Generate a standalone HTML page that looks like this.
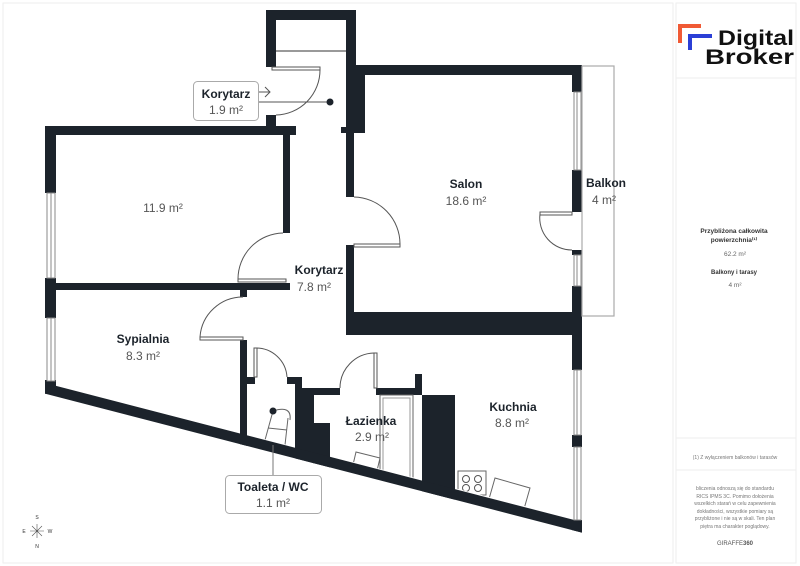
<!DOCTYPE html>
<html><head><meta charset="utf-8"><style>
html,body{margin:0;padding:0;background:#fff;}
body{width:800px;height:566px;overflow:hidden;position:relative;font-family:"Liberation Sans",sans-serif;}
svg{position:absolute;left:0;top:0;}
</style></head><body>
<svg width="800" height="566" viewBox="0 0 800 566" xmlns="http://www.w3.org/2000/svg" font-family="Liberation Sans, sans-serif">
<defs>
<clipPath id="above"><polygon points="0,0 800,0 800,589 0,382"/></clipPath>
<clipPath id="aboveTop"><polygon points="0,0 800,0 800,577 0,371"/></clipPath>
</defs>
<rect x="0" y="0" width="800" height="566" fill="#fff"/>
<rect x="3" y="3" width="670" height="560" fill="none" stroke="#eee" stroke-width="1"/>
<rect x="676" y="3" width="120" height="560" fill="#fff" stroke="#eee"/>
<line x1="676" y1="78" x2="796" y2="78" stroke="#eee"/>
<line x1="676" y1="438" x2="796" y2="438" stroke="#eee"/>
<line x1="676" y1="470" x2="796" y2="470" stroke="#eee"/>

<g fill="#1c232b" clip-path="url(#above)">
<rect x="266" y="10" width="90" height="10"/>
<rect x="266" y="10" width="10" height="57"/>
<rect x="346" y="10" width="10" height="60"/>
<rect x="266" y="115" width="10" height="12"/>
<rect x="346" y="65" width="236" height="10"/>
<rect x="346" y="65" width="19" height="68"/>
<rect x="341" y="127" width="24" height="6"/>
<rect x="346" y="133" width="8" height="64"/>
<rect x="346" y="245" width="8" height="90"/>
<rect x="346" y="312" width="236" height="23"/>
<rect x="572" y="65" width="10" height="27"/>
<rect x="572" y="170" width="10" height="42"/>
<rect x="572" y="250" width="10" height="5"/>
<rect x="572" y="286" width="10" height="84"/>
<rect x="572" y="435" width="10" height="12"/>
<rect x="572" y="520" width="10" height="16"/>
<rect x="45" y="126" width="251" height="9"/>
<rect x="45" y="126" width="11" height="67"/>
<rect x="45" y="278" width="11" height="40"/>
<rect x="283" y="133" width="7" height="100"/>
<rect x="45" y="283" width="245" height="7"/>
<rect x="240" y="290" width="7" height="7"/>
<rect x="240" y="340" width="7" height="110"/>
<rect x="247" y="377" width="8" height="7"/>
<rect x="287" y="377" width="14" height="7"/>
<rect x="295" y="377" width="7" height="100"/>
<rect x="302" y="388" width="12" height="100"/>
<rect x="313" y="423" width="17" height="60"/>
<rect x="313" y="388" width="27" height="7"/>
<rect x="376" y="388" width="46" height="7"/>
<rect x="415" y="374" width="7" height="21"/>
<rect x="422" y="395" width="33" height="130"/>
<polygon points="45,383 582,522 582,536 45,394"/>
<rect x="45" y="380" width="11" height="14"/>
</g>

<g fill="#fff" stroke="#888" stroke-width="1">
<rect x="47" y="193" width="8" height="85"/>
<rect x="47" y="318" width="8" height="63"/>
<rect x="574" y="92" width="7" height="78"/>
<rect x="574" y="255" width="7" height="31"/>
<rect x="574" y="370" width="7" height="65"/>
<rect x="574" y="447" width="7" height="73"/>
</g>
<line x1="51" y1="193" x2="51" y2="278" stroke="#888"/>
<line x1="51" y1="318" x2="51" y2="381" stroke="#888"/>
<line x1="577" y1="92" x2="577" y2="170" stroke="#888"/>
<line x1="577" y1="255" x2="577" y2="286" stroke="#888"/>
<line x1="577" y1="370" x2="577" y2="435" stroke="#888"/>
<line x1="577" y1="447" x2="577" y2="520" stroke="#888"/>
<line x1="276" y1="51" x2="346" y2="51" stroke="#999" stroke-width="2"/>

<rect x="582" y="66" width="32" height="250" fill="none" stroke="#aaa" stroke-width="1.2"/>

<g fill="none" stroke="#555" stroke-width="1" clip-path="url(#aboveTop)">
<rect x="272" y="67" width="48" height="3" fill="#fff"/>
<path d="M320 70 A45 45 0 0 1 276 115"/>
<rect x="354" y="244" width="46" height="3" fill="#fff"/>
<path d="M354 197 A47 47 0 0 1 400 244"/>
<rect x="238" y="279" width="48" height="3" fill="#fff"/>
<path d="M238 279 A46 46 0 0 1 283 233"/>
<rect x="200" y="337" width="43" height="3" fill="#fff"/>
<path d="M200 337 A43 43 0 0 1 243 297"/>
<rect x="254" y="348" width="3" height="29" fill="#fff"/>
<path d="M256 348 A31 31 0 0 1 287 377"/>
<rect x="374" y="353" width="3" height="35" fill="#fff"/>
<path d="M374 353 A35 35 0 0 0 340 388"/>
<rect x="540" y="212" width="32" height="3" fill="#fff"/>
<path d="M540 214 A32 32 0 0 0 572 250"/>
<rect x="380" y="395" width="33" height="110" stroke="#666"/>
<rect x="383" y="398" width="27" height="105" stroke="#999"/>
<path d="M273 411 L265 440 M288 418 L285 445 M273 411 Q292 405 290 420 M268 428 L287 430" stroke="#666"/>
<polygon points="356,452 380,458 376,475 352,469" stroke="#666"/>
<rect x="458" y="471" width="28" height="24" stroke="#666"/>
<circle cx="466" cy="479" r="3.5"/><circle cx="478" cy="479" r="3.5"/>
<circle cx="466" cy="488" r="3.5"/><circle cx="478" cy="488" r="3.5"/>
<polygon points="495,478 530,488 524,509 489,499" stroke="#666"/>
</g>
<line x1="273" y1="445" x2="273" y2="475" stroke="#777"/>
<line x1="258" y1="102" x2="330" y2="102" stroke="#555"/>
<circle cx="330" cy="102" r="3.5" fill="#1c232b"/>
<circle cx="273" cy="411" r="3.5" fill="#1c232b"/>
<path d="M258 92 L270 92 M265 87 L270 92 L265 97" fill="none" stroke="#555"/>

<rect x="193.5" y="81.5" width="65" height="39" rx="4" fill="#fff" stroke="#aaa"/>
<rect x="225.5" y="475.5" width="96" height="38" rx="4" fill="#fff" stroke="#aaa"/>

<g text-anchor="middle" fill="#1c232b">
<text x="226" y="98" font-size="12" font-weight="bold">Korytarz</text>
<text x="226" y="114" font-size="12" fill="#555">1.9 m²</text>
<text x="163" y="212" font-size="12" fill="#555">11.9 m²</text>
<text x="319" y="274" font-size="12" font-weight="bold">Korytarz</text>
<text x="314" y="291" font-size="12" fill="#555">7.8 m²</text>
<text x="466" y="188" font-size="12" font-weight="bold">Salon</text>
<text x="466" y="205" font-size="12" fill="#555">18.6 m²</text>
<text x="606" y="187" font-size="12" font-weight="bold">Balkon</text>
<text x="604" y="204" font-size="12" fill="#555">4 m²</text>
<text x="143" y="343" font-size="12" font-weight="bold">Sypialnia</text>
<text x="143" y="360" font-size="12" fill="#555">8.3 m²</text>
<text x="371" y="425" font-size="12" font-weight="bold">Łazienka</text>
<text x="372" y="441" font-size="12" fill="#555">2.9 m²</text>
<text x="513" y="411" font-size="12" font-weight="bold">Kuchnia</text>
<text x="512" y="427" font-size="12" fill="#555">8.8 m²</text>
<text x="273" y="491" font-size="12" font-weight="bold">Toaleta / WC</text>
<text x="273" y="507" font-size="12" fill="#555">1.1 m²</text>
</g>

<g font-size="5" fill="#333" text-anchor="middle">
<text x="37" y="519">S</text><text x="37" y="548">N</text>
<text x="24" y="533">E</text><text x="50" y="533">W</text>
<path d="M30 531 L44 531 M37 524 L37 538 M32 526 L42 536 M42 526 L32 536" stroke="#555" stroke-width="0.6"/>
</g>

<path d="M680 43 V26 H701" fill="none" stroke="#f05a35" stroke-width="4"/>
<path d="M690 50 V36 H712" fill="none" stroke="#2b3fd6" stroke-width="4"/>
<text x="718" y="45" font-size="21" font-weight="bold" fill="#111" textLength="76" lengthAdjust="spacingAndGlyphs">Digital</text>
<text x="705" y="64" font-size="21" font-weight="bold" fill="#111" textLength="89" lengthAdjust="spacingAndGlyphs">Broker</text>

<g text-anchor="middle" fill="#333">
<text x="734" y="233" font-size="6.5" font-weight="bold">Przybliżona całkowita</text>
<text x="734" y="242" font-size="6.5" font-weight="bold">powierzchnia⁽¹⁾</text>
<text x="735" y="256" font-size="6.5" fill="#666">62.2 m²</text>
<text x="734" y="274" font-size="6" font-weight="bold">Balkony i tarasy</text>
<text x="735" y="287" font-size="6.5" fill="#666">4 m²</text>
<text x="735" y="459" font-size="5" fill="#777">(1) Z wyłączeniem balkonów i tarasów</text>
<g font-size="5" fill="#777">
<text x="735" y="490">bliczenia odnoszą się do standardu</text>
<text x="735" y="498">RICS IPMS 3C. Pomimo dołożenia</text>
<text x="735" y="505">wszelkich starań w celu zapewnienia</text>
<text x="735" y="513">dokładności, wszystkie pomiary są</text>
<text x="735" y="520">przybliżone i nie są w skali. Ten plan</text>
<text x="735" y="528">piętra ma charakter poglądowy.</text>
</g>
<text x="735" y="545" font-size="6" fill="#555">GIRAFFE<tspan font-weight="bold">360</tspan></text>
</g>
</svg>
</body></html>
